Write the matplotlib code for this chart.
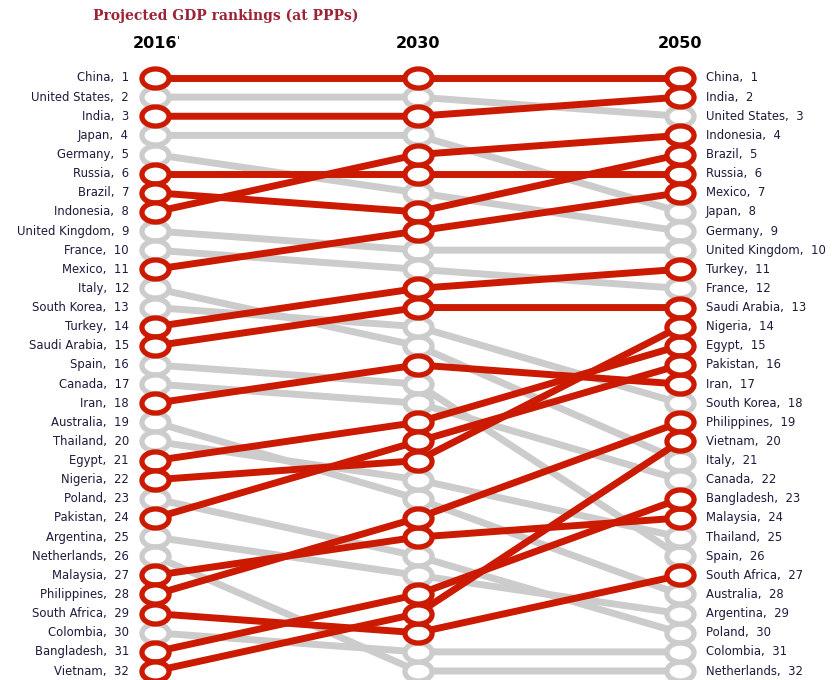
import matplotlib.pyplot as plt
from matplotlib.path import Path
from matplotlib.transforms import Affine2D

# Projected GDP rankings at PPPs (rank in 2016, 2030, 2050)
years = ["2016", "2030", "2050"]
countries = ["China", "United States", "India", "Japan", "Germany", "Russia",
             "Brazil", "Indonesia", "United Kingdom", "France", "Mexico", "Italy",
             "South Korea", "Turkey", "Saudi Arabia", "Spain", "Canada", "Iran",
             "Australia", "Thailand", "Egypt", "Nigeria", "Poland", "Pakistan",
             "Argentina", "Netherlands", "Malaysia", "Philippines", "South Africa",
             "Colombia", "Bangladesh", "Vietnam"]
rank_2016 = list(range(1, 33))
rank_2030 = [1, 2, 3, 4, 7, 6, 8, 5, 10, 11, 9, 15, 14, 12, 13, 17, 18, 16,
             23, 22, 19, 21, 26, 20, 27, 32, 25, 24, 30, 31, 28, 29]
rank_2050 = [1, 3, 2, 8, 9, 6, 5, 4, 10, 12, 7, 21, 18, 11, 13, 26, 22, 17,
             28, 25, 15, 14, 30, 16, 29, 32, 24, 19, 27, 31, 23, 20]
emerging = {"China", "India", "Indonesia", "Russia", "Brazil", "Mexico", "Turkey",
            "Saudi Arabia", "Iran", "Egypt", "Nigeria", "Pakistan", "Malaysia",
            "Philippines", "South Africa", "Bangladesh", "Vietnam"}

RED = "#cc1a00"
GREY = "#cccccc"
TXT = "#1c1c3c"

fig = plt.figure(figsize=(8.32, 6.80), dpi=100)
ax = fig.add_axes([0, 0, 1, 1])
ax.set_xlim(-0.5905, 2.579)
ax.set_ylim(32.47, -3.077)
ax.axis("off")

# ellipse marker (the original is stretched horizontally)
circ = Path.unit_circle()
ell = Affine2D().scale(1.42, 1.0).transform_path(circ)

xs = [0, 1, 2]
for k, name in enumerate(countries):
    ranks = [rank_2016[k], rank_2030[k], rank_2050[k]]
    hot = name in emerging
    col = RED if hot else GREY
    ax.plot(xs, ranks, color=col, lw=5, solid_capstyle="butt",
            zorder=2 if hot else 1)
    ax.plot(xs, ranks, ls="none", marker=ell, ms=19.5, mfc="white",
            mec=col, mew=3.8, zorder=4 if hot else 3)

for k, name in enumerate(countries):
    ax.annotate(f"{name},  {rank_2016[k]}", (0, rank_2016[k]), xytext=(-26, 0),
                textcoords="offset pixels", ha="right", va="center",
                fontsize=8.4, color=TXT, family="DejaVu Sans")
    ax.annotate(f"{name},  {rank_2050[k]}", (2, rank_2050[k]), xytext=(26, 0),
                textcoords="offset pixels", ha="left", va="center",
                fontsize=8.4, color=TXT, family="DejaVu Sans")

for i, yr in enumerate(years):
    ax.annotate(yr, (i, 1), xytext=(0, 34), textcoords="offset pixels",
                ha="center", va="center", fontsize=11.5, fontweight="bold",
                color="black", family="DejaVu Sans")
ax.annotate("'", (0, 1), xytext=(22, 38), textcoords="offset pixels",
            ha="left", va="center", fontsize=7.5, color="black")

fig.text(93 / 832, 1 - 16 / 680, "Projected GDP rankings (at PPPs)",
         ha="left", va="center", fontsize=10, fontweight="bold",
         color="#9b2335", family="DejaVu Serif")

fig.savefig("out.png", dpi=100)
